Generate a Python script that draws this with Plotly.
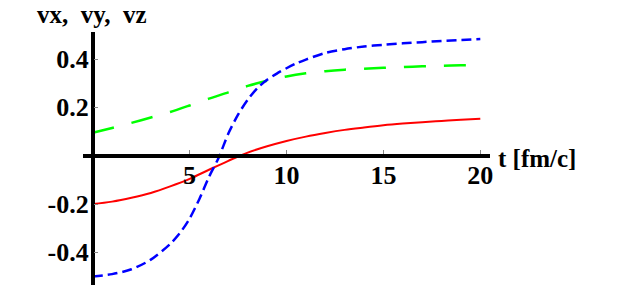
import plotly.graph_objects as go

# Data
t_x = [0, 1, 2, 3, 4, 5, 6, 7, 8, 9, 10, 11, 12, 13, 14, 15, 16, 17, 18, 19, 20]
vx = [-0.200, -0.190, -0.174, -0.154, -0.127, -0.096, -0.058, -0.021, 0.013, 0.039, 0.061,
      0.079, 0.094, 0.107, 0.117, 0.126, 0.133, 0.139, 0.144, 0.149, 0.153]

t_y = [0, 1, 2, 3, 4, 5, 6, 7, 8, 9, 10, 11, 12, 13, 14, 15, 16, 17, 18, 19, 20]
vy = [0.095, 0.115, 0.136, 0.158, 0.181, 0.208, 0.236, 0.262, 0.289, 0.310, 0.328, 0.341, 0.350,
      0.356, 0.360, 0.364, 0.367, 0.370, 0.372, 0.374, 0.376]

t_z = [0, 1, 2, 3, 4, 4.5, 5, 5.5, 6, 6.5, 7, 7.5, 8, 8.5, 9, 9.5, 10, 10.5, 11, 12, 13, 14, 15, 16,
       17, 18, 19, 20]
vz = [-0.500, -0.490, -0.470, -0.430, -0.365, -0.320, -0.260, -0.180, -0.088, -0.008, 0.092, 0.170,
      0.232, 0.280, 0.314, 0.340, 0.362, 0.382, 0.398, 0.425, 0.441, 0.452, 0.459, 0.465, 0.470,
      0.475, 0.479, 0.483]

x_ticks = [5, 10, 15, 20]
y_ticks = [-0.4, -0.2, 0.2, 0.4]
y_tick_text = ["-0.4", "-0.2", "0.2", "0.4"]

x_range = [-0.5, 20.5]
y_range = [-0.535, 0.512]

fig = go.Figure()
fig.add_trace(go.Scatter(x=t_x, y=vx, mode="lines",
                         line=dict(color="#ff0000", width=2, shape="spline", smoothing=1.0), name="vx"))
fig.add_trace(go.Scatter(x=t_y, y=vy, mode="lines",
                         line=dict(color="#00ff00", width=2.5, dash="22px,18px", shape="spline", smoothing=0.8),
                         name="vy"))
fig.add_trace(go.Scatter(x=t_z, y=vz, mode="lines",
                         line=dict(color="#0000ff", width=2.5, dash="10px,5px", shape="spline", smoothing=0.8),
                         name="vz"))

tick_font = dict(family="Liberation Serif", size=26, color="black", weight="bold")

ML, MR, MT, MB = 83, 133, 32, 1
W, H = 623, 286
pw, ph = W - ML - MR, H - MT - MB

def px_x(px):
    return (px - ML) / pw

def px_y(py):
    return (H - MB - py) / ph

fig.update_layout(
    template="none",
    width=W, height=H,
    margin=dict(l=ML, r=MR, t=MT, b=MB, autoexpand=False),
    paper_bgcolor="white", plot_bgcolor="white",
    showlegend=False,
    xaxis=dict(
        range=x_range, anchor="free", automargin=False,
        position=(0 - y_range[0]) / (y_range[1] - y_range[0]),
        showgrid=False, zeroline=False,
        showline=True, linecolor="black", linewidth=3.5,
        tickvals=x_ticks, ticktext=[str(v) for v in x_ticks],
        ticks="inside", ticklen=4, tickwidth=1, tickcolor="#888",
        tickfont=tick_font, ticklabelstandoff=-5,
    ),
    yaxis=dict(
        range=y_range, anchor="free", automargin=False,
        position=(0 - x_range[0]) / (x_range[1] - x_range[0]),
        showgrid=False, zeroline=False,
        showline=True, linecolor="black", linewidth=3.5,
        tickvals=y_ticks, ticktext=y_tick_text,
        ticks="inside", ticklen=4, tickwidth=1, tickcolor="#888",
        tickfont=tick_font, ticklabelstandoff=-3,
    ),
    annotations=[
        dict(text="vx,\u00a0\u00a0vy,\u00a0\u00a0vz", xref="paper", yref="paper",
             x=px_x(36), y=px_y(0), xanchor="left", yanchor="top", showarrow=False,
             borderpad=0,
             font=dict(family="Liberation Serif", size=25, color="black", weight="bold")),
        dict(text="t [fm/c]", xref="paper", yref="paper",
             x=px_x(496), y=px_y(158), xanchor="left", yanchor="middle", showarrow=False,
             font=dict(family="Liberation Serif", size=25, color="black", weight="bold")),
    ],
)

fig.write_html("out.html", config={"displayModeBar": False},
               post_script="document.body.style.margin='0px';")
